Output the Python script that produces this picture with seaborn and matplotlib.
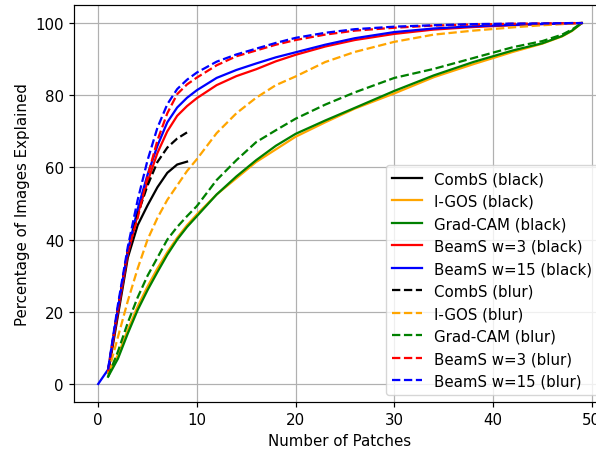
import matplotlib
matplotlib.use("Agg")
import matplotlib.pyplot as plt
import seaborn as sns

# x positions (number of patches)
x_pts = [1, 2, 3, 4, 5, 6, 7, 8, 9, 10, 12, 14, 16, 18, 20, 23, 26, 30, 34, 38, 42, 45, 47, 48, 49]
x_short = [1, 2, 3, 4, 5, 6, 7, 8, 9]
x_beam15 = [0] + x_pts

# black baseline
combs_black = [3, 19, 35, 44, 49.5, 54.5, 58.5, 60.8, 61.6]
igos_black = [3, 8, 15, 21.5, 27, 32, 36.5, 40.5, 44, 47, 52.5, 57, 61.5, 65, 68.5,
              72.5, 76.3, 80.5, 85, 88.6, 92, 94.3, 96.3, 97.8, 100]
gradcam_black = [2, 7, 14, 20.5, 26, 31, 35.8, 40, 43.5, 46.5, 52.5, 57.5, 62, 66, 69.3,
                 73, 76.5, 81.2, 85.5, 89.2, 92.4, 94.4, 96.4, 97.9, 100]
beam3_black = [3.5, 20, 36, 47, 56, 64, 70, 74.3, 77, 79.2, 82.8, 85.3, 87.2, 89.4, 91.2,
               93.5, 95.3, 97, 98.2, 98.9, 99.4, 99.7, 99.85, 99.95, 100]
beam15_black = [0, 4, 21, 37, 48.5, 58, 66, 72.5, 76.6, 79.3, 81.4, 84.8, 87, 88.8, 90.5, 91.9,
                94, 95.8, 97.5, 98.5, 99.1, 99.5, 99.75, 99.9, 99.95, 100]

# blur baseline
combs_blur = [3.5, 21, 37, 47, 55, 61.5, 65.5, 68, 69.7]
igos_blur = [3, 13, 23, 32, 40, 46, 51, 55, 59, 62.3, 69.5, 75, 79.3, 82.8, 85.2,
             89.2, 92, 94.8, 96.8, 97.9, 98.8, 99.4, 99.7, 99.9, 100]
gradcam_blur = [2, 9, 17, 24, 30, 35, 40, 43.5, 46.5, 49.3, 56.5, 62, 67, 70.3, 73.5,
                77.4, 80.8, 84.8, 87.3, 90.3, 93.3, 95, 96.8, 98.2, 100]
beam3_blur = [3.5, 21, 37, 46, 57.5, 67.5, 75, 80.3, 83, 84.9, 88.3, 90.8, 92.4, 94, 95.3,
              96.8, 97.9, 98.7, 99.3, 99.6, 99.8, 99.9, 99.95, 100, 100]
beam15_blur = [4, 22, 38, 51, 62, 71, 77.5, 81.7, 84.3, 86.3, 89.3, 91.3, 92.9, 94.5, 95.9,
               97.3, 98.3, 99, 99.4, 99.7, 99.85, 99.9, 99.95, 100, 100]

# reference looks rendered ~1.08x bigger than default
s = 1.08
plt.rcParams.update({
    "font.size": 10 * s,
    "lines.linewidth": 1.5 * s,
    "axes.linewidth": 0.8 * s,
    "grid.linewidth": 0.8 * s,
    "xtick.major.size": 3.5 * s,
    "ytick.major.size": 3.5 * s,
    "xtick.major.width": 0.8 * s,
    "ytick.major.width": 0.8 * s,
})

fig = plt.figure(figsize=(5.96, 4.52), dpi=100)
ax = fig.add_axes([0.1242, 0.1084, 0.8926, 0.8783])

sns.lineplot(x=x_short, y=combs_black, color="black", label="CombS (black)", ax=ax)
sns.lineplot(x=x_pts, y=igos_black, color="orange", label="I-GOS (black)", ax=ax)
sns.lineplot(x=x_pts, y=gradcam_black, color="green", label="Grad-CAM (black)", ax=ax)
sns.lineplot(x=x_pts, y=beam3_black, color="red", label="BeamS w=3 (black)", ax=ax)
sns.lineplot(x=x_beam15, y=beam15_black, color="blue", label="BeamS w=15 (black)", ax=ax)

sns.lineplot(x=x_short, y=combs_blur, color="black", linestyle="--", label="CombS (blur)", ax=ax)
sns.lineplot(x=x_pts, y=igos_blur, color="orange", linestyle="--", label="I-GOS (blur)", ax=ax)
sns.lineplot(x=x_pts, y=gradcam_blur, color="green", linestyle="--", label="Grad-CAM (blur)", ax=ax)
sns.lineplot(x=x_pts, y=beam3_blur, color="red", linestyle="--", label="BeamS w=3 (blur)", ax=ax)
sns.lineplot(x=x_pts, y=beam15_blur, color="blue", linestyle="--", label="BeamS w=15 (blur)", ax=ax)

ax.set_xlim(-2.45, 51.45)
ax.set_ylim(-5, 105)
ax.set_xticks([0, 10, 20, 30, 40, 50])
ax.set_yticks([0, 20, 40, 60, 80, 100])
ax.set_xlabel("Number of Patches")
ax.set_ylabel("Percentage of Images Explained")
ax.grid(True)
ax.legend(loc="lower right")

fig.savefig("out.png", dpi=100)
